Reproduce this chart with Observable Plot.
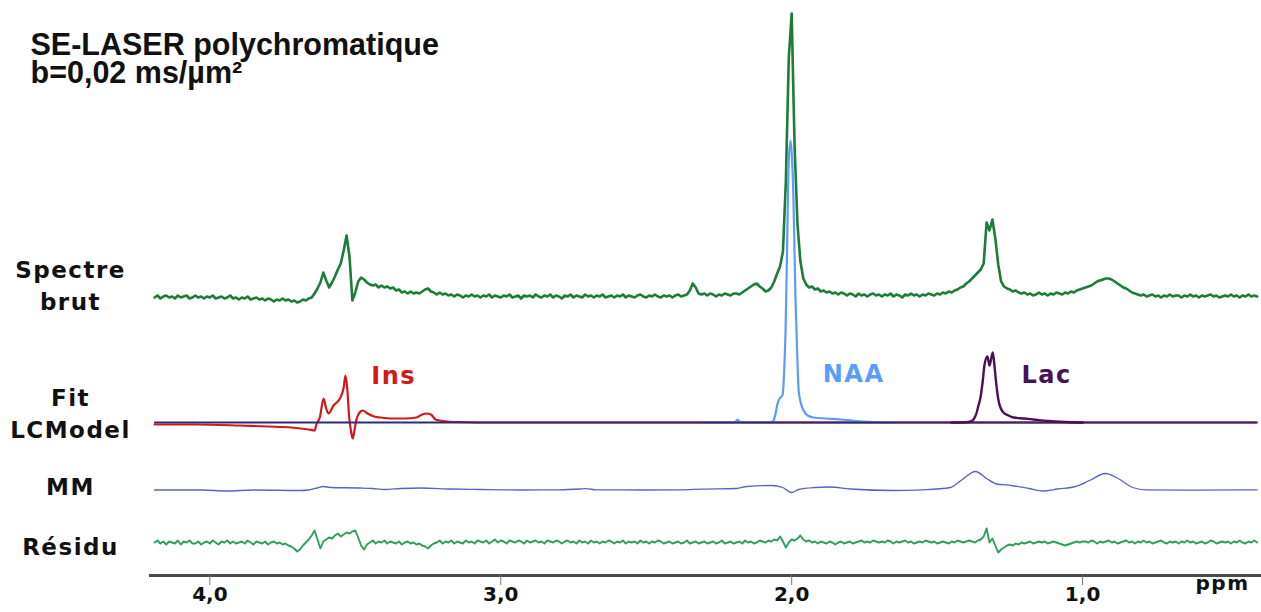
<!DOCTYPE html>
<html><head><meta charset="utf-8">
<script src="https://cdn.jsdelivr.net/npm/d3@7"></script>
<script src="https://cdn.jsdelivr.net/npm/@observablehq/plot@0.6"></script>
<style>
body{margin:0;background:#fff;}
#wrap{width:1261px;height:612px;overflow:hidden;}
svg g[aria-label="text"] text{letter-spacing:1.5px;}
svg g[aria-label="text"] text.title{letter-spacing:0px;}
</style></head><body><div id="wrap"></div>
<script>
// chemical shift grid of the sampled traces (ppm), 0.01 ppm per point
const gridStart = 4.19, gridStep = 0.01;

// raw spectrum, amplitude relative to its own baseline (one row = 0.1 ppm)
const spectreBrut = [
 -1,1,-2,0,1,-1,0,-2,1,-1,
 0,1,-2,-1,1,-1,0,-2,0,-1,
 1,-2,-1,0,-2,-1,1,-2,-1,-3,
 -1,-2,0,-3,-2,-1,-3,-2,-4,-2,
 -3,-5,-3,-4,-2,-4,-3,-5,-4,-6,
 -5,-3,-4,-2,-1,3,8,14,24,16,
 9,14,20,27,33,46,61,40,-4,4,
 15,19,17,14,12,11,12,9,11,9,
 10,8,9,6,7,4,5,3,5,3,
 4,3,5,7,8,5,4,2,4,2,
 3,1,2,0,2,1,-1,1,0,2,
 0,1,-1,1,0,2,-1,1,0,-1,
 1,0,2,-1,0,1,-2,1,0,1,
 -1,2,0,-1,1,0,2,-1,1,0,
 -2,1,0,2,-1,1,0,-1,2,0,
 1,-1,1,0,2,-1,0,1,-1,1,
 0,2,-1,1,0,-1,1,2,0,-1,
 1,0,2,0,-1,1,0,1,-1,1,
 2,0,1,2,6,13,9,3,2,3,
 1,3,2,0,2,1,3,2,1,3,
 3,2,4,6,8,10,12,13,10,8,
 5,6,9,15,23,30,45,115,238,283,
 150,72,35,18,12,9,10,7,8,5,
 6,4,5,3,4,2,4,3,1,3,
 2,0,3,1,2,0,2,3,1,2,
 0,2,1,3,0,2,1,-1,2,1,
 3,1,2,0,2,1,3,2,1,3,
 2,4,3,5,4,6,7,9,10,13,
 15,18,21,24,27,33,74,66,77,58,
 32,15,10,8,7,5,6,4,3,4,
 2,3,1,2,4,2,3,1,3,2,
 4,3,2,4,3,5,4,6,7,8,
 9,10,11,13,15,16,17,18,18,17,
 15,13,11,9,8,6,4,3,2,1,
 2,0,1,2,0,1,-1,1,0,2,
 0,1,1,-1,1,0,2,0,1,-1,
 1,0,1,2,0,1,-1,0,1,0,
 2,0,1,-1,1,0,2,0,1,0
];

// residual, same grid
const residu = [
 0,2,-1,1,-2,1,0,-1,2,-2,
 1,0,2,-1,-1,1,-2,0,1,-1,
 2,0,-2,1,0,2,-1,1,-1,0,
 1,-1,2,0,-2,1,0,-1,1,-2,
 0,1,-1,0,-2,-1,-3,-4,-6,-9,
 -7,-3,0,3,7,12,3,-6,1,3,
 5,4,7,9,6,8,10,9,11,12,
 5,-3,-7,-2,0,2,-1,1,0,2,
 -1,1,0,-1,1,-2,0,1,-1,0,
 -2,-1,-3,-4,-6,-3,-1,0,2,-1,
 1,0,2,-1,1,0,-1,2,0,1,
 -1,2,1,0,2,-1,1,3,0,2,
 1,-1,2,1,0,2,1,-1,2,0,
 1,2,0,1,-1,2,1,0,2,1,
 -1,1,2,0,1,-1,2,0,1,-1,
 2,0,1,-1,1,0,2,1,-1,1,
 0,2,-1,1,0,1,-1,2,0,1,
 -1,1,0,2,1,-1,0,1,-1,0,
 1,-1,0,2,-1,0,1,-1,0,1,
 -1,0,1,-1,0,2,-1,0,1,-1,
 0,1,-1,2,0,1,-1,0,2,1,
 0,2,1,3,2,6,1,-5,0,3,
 2,4,7,3,1,2,0,1,-1,1,
 0,-1,1,0,-2,0,1,-1,0,1,
 -1,0,1,2,0,1,0,2,1,0,
 1,0,2,1,-1,1,0,1,2,0,
 1,-1,0,1,0,2,1,0,1,-1,
 0,1,0,-1,1,0,2,1,0,1,
 2,1,0,2,3,6,14,0,4,-3,
 -10,-7,-5,-3,-2,-3,-1,-2,0,-1,
 0,1,-1,0,1,0,1,-1,0,1,
 0,-1,-2,-3,-2,-1,0,1,0,1,
 1,0,2,1,-1,1,0,1,2,0,
 1,-1,0,1,2,0,1,-1,1,0,
 2,0,1,-1,0,1,2,0,-1,1,
 0,1,-1,1,0,2,0,1,-1,0,
 1,-1,0,2,1,-1,0,1,0,1,
 -1,1,0,2,0,-1,1,0,2,0
];

// LCModel fit components [ppm, amplitude]
const fitIns = [[4.19,-2],[4.05,-2],[3.90,-3],[3.80,-4],[3.72,-5],[3.66,-7],[3.640,-8],[3.634,-2],[3.622,5],[3.609,24],[3.600,14],[3.592,9],[3.575,17],[3.551,25],[3.540,35],[3.534,47],[3.528,35],[3.521,5],[3.514,-10],[3.509,-16],[3.503,-8],[3.496,3],[3.485,10],[3.475,12],[3.458,9],[3.435,6],[3.413,5],[3.380,4],[3.330,4],[3.290,5],[3.270,8],[3.255,9],[3.240,8],[3.224,3],[3.200,1.5],[3.150,0.5],[3.00,0],[0.40,0]];
const fitNAA = [[2.30,0],[2.20,0],[2.192,1],[2.186,3],[2.180,1],[2.172,0],[2.10,0],[2.075,0],[2.068,0.5],[2.062,2],[2.056,8],[2.050,17],[2.045,22],[2.038,25],[2.031,28],[2.026,50],[2.021,92],[2.016,170],[2.011,255],[2.004,282],[1.999,265],[1.994,225],[1.987,125],[1.980,60],[1.976,32],[1.969,20],[1.959,12],[1.945,7],[1.925,5],[1.88,4],[1.832,3],[1.78,1.5],[1.72,0.5],[1.65,0]];
const fitLac = [[1.45,0],[1.40,0.3],[1.385,1],[1.375,3],[1.365,9],[1.358,17],[1.351,25],[1.343,42],[1.337,58],[1.327,66],[1.320,57],[1.309,70],[1.304,60],[1.299,45],[1.294,32],[1.289,22],[1.281,14],[1.272,10],[1.255,7],[1.237,5],[1.20,4],[1.169,3],[1.12,1.5],[1.06,0.5],[1.00,0]];
// macromolecule baseline [ppm, amplitude]
const mm = [[4.19,-0.5],[4.03,-0.5],[3.94,-1.5],[3.85,-0.5],[3.69,-1],[3.66,-0.5],[3.626,2],[3.612,3],[3.585,2],[3.482,1.5],[3.441,1],[3.40,0],[3.344,1],[3.276,1.5],[3.173,0.5],[3.07,0],[2.93,-0.5],[2.80,-0.3],[2.726,0.5],[2.708,0.8],[2.67,-0.3],[2.52,-0.5],[2.38,-0.3],[2.31,0.4],[2.19,1],[2.154,3],[2.069,4],[2.031,2],[2.000,-3],[1.976,0],[1.921,2],[1.871,2.5],[1.798,0.5],[1.65,-1],[1.55,-0.3],[1.454,2],[1.418,9],[1.368,18],[1.33,11],[1.296,5.5],[1.245,4],[1.183,1],[1.134,-1.5],[1.086,0.5],[1.024,3],[0.976,9],[0.921,16],[0.878,11],[0.828,2],[0.781,-0.3],[0.594,-0.6],[0.40,-0.3]];

const xTicks = [4, 3, 2, 1];
const traceLabels = ["Spectre\nbrut", "Fit\nLCModel", "MM", "Résidu"];
const metabolites = ["Ins", "NAA", "Lac"];
const titleLines = "SE-LASER polychromatique\nb=0,02 ms/µm²";

// vertical stacking of the traces (y units)
const OFF = {brut: 279, fit: 153, mm: 86, res: 33};

const grid = (arr, off) => arr.map((v, i) => ({ppm: +(gridStart - i * gridStep).toFixed(2), v: v + off}));
const pairs = (arr, off) => arr.map(([p, a]) => ({ppm: p, v: a + off}));

const brutData = grid(spectreBrut, OFF.brut);
const resData = grid(residu, OFF.res);
const insData = pairs(fitIns, OFF.fit);
const naaData = pairs(fitNAA, OFF.fit);
const lacData = pairs(fitLac, OFF.fit);
const mmData = pairs(mm, OFF.mm);

const labelFont = {fontFamily: "DejaVu Sans", fontWeight: "bold"};

const chart = Plot.plot({
  width: 1261, height: 612,
  marginLeft: 150, marginRight: 0, marginTop: 0, marginBottom: 37,
  style: {fontFamily: "DejaVu Sans", background: "#fff", overflow: "visible"},
  x: {domain: [4.204, 0.385], axis: null, label: null},
  y: {domain: [0, 575], axis: null, label: null},
  marks: [
    Plot.line(brutData, {x: "ppm", y: "v", stroke: "#1b7d37", strokeWidth: 2.6, strokeLinejoin: "round"}),
    Plot.line(resData, {x: "ppm", y: "v", stroke: "#2ea05a", strokeWidth: 1.9, strokeLinejoin: "round"}),
    Plot.line(mmData, {x: "ppm", y: "v", stroke: "#5a62c8", strokeWidth: 1.3, curve: "monotone-x"}),
    Plot.line(insData, {x: "ppm", y: "v", stroke: "#d41818", strokeWidth: 2.2, curve: "monotone-x"}),
    Plot.line(naaData, {x: "ppm", y: "v", stroke: "#5a9cf6", strokeWidth: 2.2, curve: "monotone-x"}),
    Plot.ruleY([OFF.fit], {x1: 4.19, x2: 0.40, stroke: "#2c2a7c", strokeWidth: 2}),
    Plot.line(lacData, {x: "ppm", y: "v", stroke: "#4a0f5c", strokeWidth: 2.4, curve: "monotone-x"}),
    Plot.frame({anchor: "bottom", stroke: "#4a4a4a", strokeWidth: 3}),
    Plot.axisX({ticks: xTicks, tickFormat: d => d.toFixed(1).replace(".", ","), tickSize: 10, tickPadding: 1,
      label: null, fontSize: 20, fontWeight: "bold", stroke: "#777", fill: "#111"}),
    // metabolite labels
    Plot.text([metabolites[0]], {x: 3.368, y: OFF.fit + 46, text: d => d, fill: "#d41818", fontSize: 24, ...labelFont}),
    Plot.text([metabolites[1]], {x: 1.787, y: OFF.fit + 48, text: d => d, fill: "#5a9cf6", fontSize: 24, ...labelFont}),
    Plot.text([metabolites[2]], {x: 1.124, y: OFF.fit + 47, text: d => d, fill: "#4a0f5c", fontSize: 24, ...labelFont}),
    // trace labels in the left margin
    Plot.text([traceLabels[0]], {frameAnchor: "left", y: OFF.brut + 12.4, dx: -80, text: d => d, textAnchor: "middle", lineHeight: 1.39, fontSize: 23, fill: "#111", ...labelFont}),
    Plot.text([traceLabels[1]], {frameAnchor: "left", y: OFF.fit + 10.4, dx: -80, text: d => d, textAnchor: "middle", lineHeight: 1.39, fontSize: 23, fill: "#111", ...labelFont}),
    Plot.text([traceLabels[2]], {frameAnchor: "left", y: OFF.mm + 1.4, dx: -80, text: d => d, textAnchor: "middle", fontSize: 23, fill: "#111", ...labelFont}),
    Plot.text([traceLabels[3]], {frameAnchor: "left", y: OFF.res - 5.6, dx: -80, text: d => d, textAnchor: "middle", fontSize: 23, fill: "#111", ...labelFont}),
    // title
    Plot.text([titleLines], {frameAnchor: "top-left", dx: -120, dy: 35, text: d => d, textAnchor: "start", lineAnchor: "top",
      lineHeight: 0.91, fontSize: 30.5, fontFamily: "Liberation Sans", fontWeight: "bold", fill: "#111"}),
    // axis unit
    Plot.text(["ppm"], {frameAnchor: "bottom-right", dx: -39, dy: 8, text: d => d, textAnchor: "middle", lineAnchor: "middle", fontSize: 20, ...labelFont, fill: "#111"})
  ]
});
d3.select(chart).selectAll('g[aria-label="text"] text')
  .filter(function() { return this.textContent.startsWith("SE-LASER"); })
  .classed("title", true);
document.getElementById("wrap").appendChild(chart);
</script></body></html>
